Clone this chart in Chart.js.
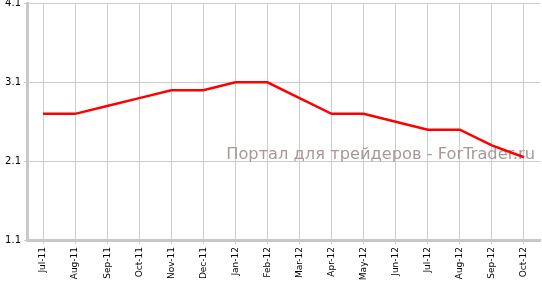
<!DOCTYPE html>
<html><head><meta charset="utf-8">
<script src="https://cdn.jsdelivr.net/npm/chart.js@4"></script>
<style>html,body{margin:0;padding:0;background:#fff}#w{width:542px;height:286px}</style>
</head><body><div id="w"><canvas id="c"></canvas></div>
<script>
const categories = ["Jul-11","Aug-11","Sep-11","Oct-11","Nov-11","Dec-11","Jan-12","Feb-12","Mar-12","Apr-12","May-12","Jun-12","Jul-12","Aug-12","Sep-12","Oct-12"];
const values = [2.7,2.7,2.8,2.9,3.0,3.0,3.1,3.1,2.9,2.7,2.7,2.6,2.5,2.5,2.3,2.15];
const yTicks = [1.1,2.1,3.1,4.1];
const watermark = "Портал для трейдеров - ForTrader.ru";

const wm = {
  id:'wm',
  beforeDatasetsDraw(chart){
    const ctx = chart.ctx;
    ctx.save();
    let size = 16;
    ctx.font = size + 'px "DejaVu Sans", Verdana, sans-serif';
    const w = ctx.measureText(watermark).width;
    size = size * 309 / w;
    ctx.font = size + 'px "DejaVu Sans", Verdana, sans-serif';
    ctx.fillStyle = 'rgb(168,152,152)';
    ctx.textBaseline = 'alphabetic';
    ctx.textAlign = 'right';
    ctx.fillText(watermark, 535, 159);
    ctx.restore();
  }
};

new Chart(document.getElementById('c'), {
  type:'line',
  data:{labels:categories, datasets:[{data:values, borderColor:'#ff0000', borderWidth:2.5, pointRadius:0, tension:0, fill:false}]},
  plugins:[wm],
  options:{
    responsive:true, maintainAspectRatio:false, animation:false,
    layout:{padding:{top:2,right:2,left:0,bottom:0}},
    plugins:{legend:{display:false}, tooltip:{enabled:false}},
    scales:{
      x:{
        offset:true,
        grid:{offset:false, color:'#cccccc', lineWidth:1, tickLength:4, drawTicks:true},
        border:{color:'#c8c8c8', width:3},
        ticks:{color:'#000', font:{family:'"DejaVu Sans", Verdana, sans-serif', size:9}, minRotation:90, maxRotation:90, autoSkip:false, padding:3},
        afterFit(s){ s.height = 46; }
      },
      y:{
        min:1.1, max:4.1,
        afterBuildTicks(s){ s.ticks = yTicks.map(v=>({value:v})); },
        grid:{color:'#cccccc', lineWidth:1, tickLength:3},
        border:{color:'#c8c8c8', width:3},
        ticks:{color:'#000', font:{family:'"DejaVu Sans", Verdana, sans-serif', size:10, lineHeight:0.1}, padding:3, callback:v=>v.toFixed(1)},
        afterFit(s){ s.width = 27; }
      }
    }
  }
});
</script></body></html>
